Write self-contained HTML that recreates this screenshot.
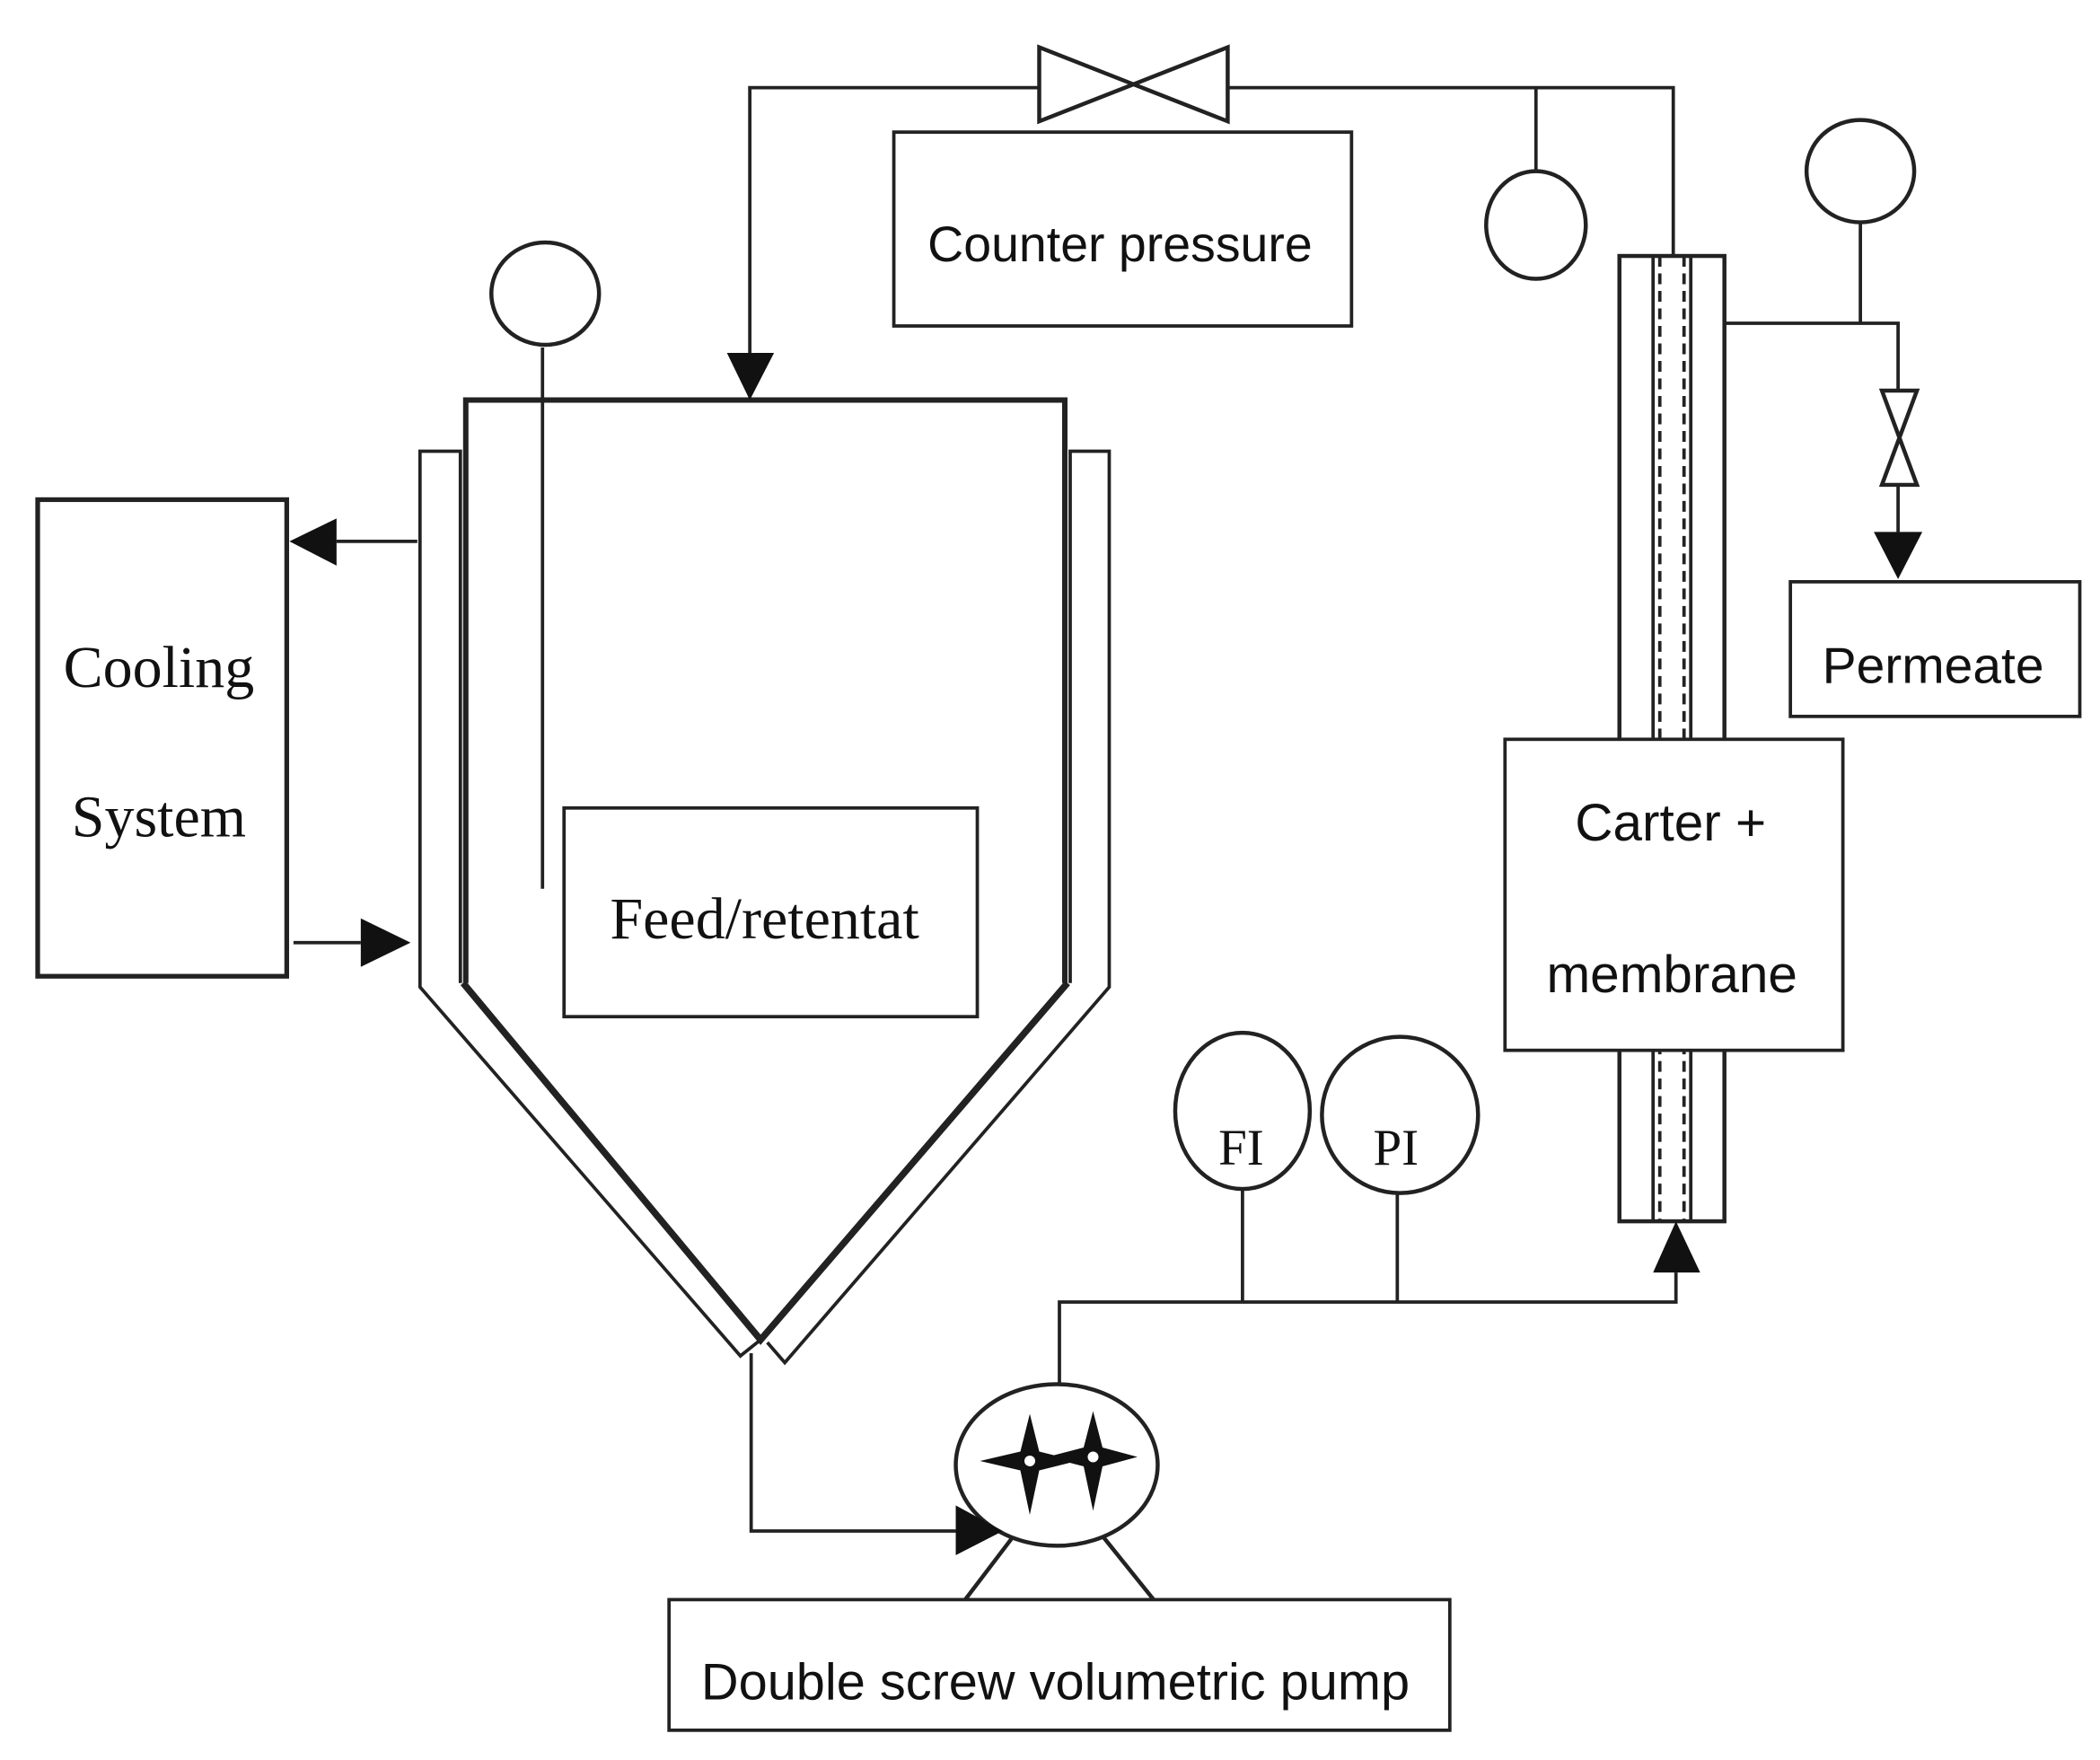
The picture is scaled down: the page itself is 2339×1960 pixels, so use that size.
<!DOCTYPE html>
<html><head><meta charset="utf-8"><style>
html,body{margin:0;padding:0;background:#fff;}
svg{display:block}
text{font-family:"Liberation Sans",sans-serif;fill:#111}
.s{font-family:"Liberation Serif",serif}
</style></head><body>
<svg width="2339" height="1960" viewBox="0 0 1560 1307" xmlns="http://www.w3.org/2000/svg">
<g fill="none" stroke="#222" stroke-width="2.5">
<polyline points="557,262 557,65 772,65"/>
<polyline points="912,65 1243,65 1243,190"/>
<polygon points="772,35 772,90 912,35 912,90" stroke-width="3"/>
<rect x="664" y="98" width="340" height="144"/>
<line x1="1141" y1="65" x2="1141" y2="128"/>
<ellipse cx="1141" cy="167" rx="37" ry="40" stroke-width="3"/>
<rect x="1203" y="190" width="78" height="717" stroke-width="3"/>
<line x1="1228" y1="190" x2="1228" y2="907"/>
<line x1="1256" y1="190" x2="1256" y2="907"/>
<line x1="1233" y1="190" x2="1233" y2="907" stroke-dasharray="8,5"/>
<line x1="1251" y1="190" x2="1251" y2="907" stroke-dasharray="8,5"/>
<rect x="1118" y="549" width="251" height="231" fill="#fff"/>
<polyline points="1281,240 1410,240 1410,290"/>
<line x1="1382" y1="165" x2="1382" y2="240"/>
<ellipse cx="1382" cy="127" rx="40" ry="38" stroke-width="3"/>
<polygon points="1398,290 1424,290 1398,360 1424,360" stroke-width="3"/>
<line x1="1410" y1="360" x2="1410" y2="395"/>
<rect x="1330" y="432" width="215" height="100"/>
<polyline points="346,730 346,297 791,297 791,730" stroke-width="4"/>
<polyline points="342,730 342,335 312,335 312,733 550,1007 565,995" stroke-width="2.5"/>
<polyline points="795,730 795,335 824,335 824,733 583,1012 570,997" stroke-width="2.5"/>
<polyline points="344,730 565,995 793,730" stroke-width="5"/>
<line x1="403" y1="258" x2="403" y2="660"/>
<ellipse cx="405" cy="218" rx="40" ry="38" stroke-width="3"/>
<rect x="419" y="600" width="307" height="155"/>
<rect x="28" y="371" width="185" height="354" stroke-width="3.5"/>
<line x1="250" y1="402" x2="310" y2="402"/>
<line x1="218" y1="700" x2="268" y2="700"/>
<polyline points="558,1005 558,1137 710,1137"/>
<ellipse cx="785" cy="1088" rx="75" ry="60" stroke-width="3"/>
<line x1="752" y1="1142" x2="717" y2="1188" stroke-width="3"/>
<line x1="820" y1="1142" x2="857" y2="1188" stroke-width="3"/>
<rect x="497" y="1188" width="580" height="97"/>
<polyline points="787,1028 787,967 1245,967 1245,945"/>
<ellipse cx="923" cy="825" rx="50" ry="58" stroke-width="3"/>
<ellipse cx="1040" cy="828" rx="58" ry="58" stroke-width="3"/>
<line x1="923" y1="883" x2="923" y2="967"/>
<line x1="1038" y1="886" x2="1038" y2="967"/>
</g>
<g fill="#111">
<polygon points="540,262 575,262 557,297"/>
<polygon points="1392,395 1428,395 1410,430"/>
<polygon points="250,385 250,420 215,402"/>
<polygon points="268,682 268,718 305,700"/>
<polygon points="710,1118 710,1155 745,1137"/>
<polygon points="1228,945 1263,945 1245,907"/>
<path d="M765,1050 L772,1078 L800,1085 L772,1092 L765,1125 L758,1092 L728,1085 L758,1078 Z"/>
<path d="M812,1048 L819,1075 L845,1082 L819,1089 L812,1122 L805,1089 L778,1082 L805,1075 Z"/>
</g>
<g fill="#fff"><circle cx="765" cy="1085" r="4"/><circle cx="812" cy="1082" r="4"/></g>
<text x="832" y="194" font-size="37" text-anchor="middle">Counter pressure</text>
<text x="1436" y="507" font-size="38" text-anchor="middle">Permeate</text>
<text x="1241" y="624" font-size="39" text-anchor="middle">Carter +</text>
<text x="1242" y="737" font-size="39" text-anchor="middle">membrane</text>
<text class="s" x="568" y="697" font-size="44" text-anchor="middle">Feed/retentat</text>
<text class="s" x="118" y="510" font-size="44" text-anchor="middle">Cooling</text>
<text class="s" x="118" y="621" font-size="44" text-anchor="middle">System</text>
<text class="s" x="922" y="865" font-size="38" text-anchor="middle">FI</text>
<text class="s" x="1037" y="865" font-size="38" text-anchor="middle">PI</text>
<text x="784" y="1262" font-size="38.5" text-anchor="middle">Double screw volumetric pump</text>
</svg>
</body></html>
